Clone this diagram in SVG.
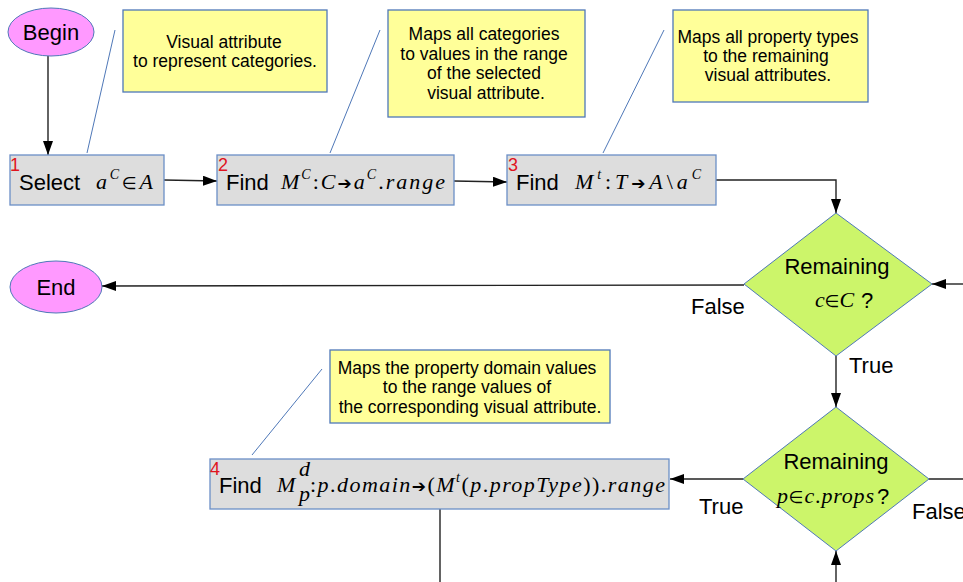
<svg xmlns="http://www.w3.org/2000/svg" width="963" height="582" viewBox="0 0 963 582">
<style>
.t{font-family:"Liberation Sans",Arial,sans-serif;fill:#000}
.lbl{font-size:22px}
.note{font-size:17.5px;text-anchor:middle}
.m{font-family:"Liberation Serif","Times New Roman",serif;font-style:italic;font-size:22px;fill:#000}
.op{font-family:"DejaVu Sans",sans-serif;font-style:normal;font-size:17px}
.num{font-family:"Liberation Sans",Arial,sans-serif;font-size:18px;fill:#e0141e}
.box{fill:#dddddd;stroke:#6b8fc7;stroke-width:1.3}
.nb{fill:#ffff99;stroke:#4f78b8;stroke-width:1.3}
.dia{fill:#ccf56a;stroke:#4f78b8;stroke-width:1}
.ell{fill:#ff99ff;stroke:#4f78b8;stroke-width:1}
.c{fill:none;stroke:#222;stroke-width:1.4}
.co{fill:none;stroke:#4f78b8;stroke-width:1}
</style>
<defs>
<marker id="ah" viewBox="0 0 14 10" refX="14" refY="5" markerWidth="14" markerHeight="10" markerUnits="userSpaceOnUse" orient="auto">
<path d="M0,0 L14,5 L0,10 Z" fill="#000"/>
</marker>
</defs>
<rect width="963" height="582" fill="#fff"/>
<g id="connectors">
<line class="c" x1="48" y1="56" x2="48" y2="155" marker-end="url(#ah)"/>
<line class="c" x1="164" y1="180" x2="217" y2="181" marker-end="url(#ah)"/>
<line class="c" x1="454" y1="181" x2="507" y2="182" marker-end="url(#ah)"/>
<polyline class="c" points="716,180 836,180 836,213" marker-end="url(#ah)"/>
<line class="c" x1="963" y1="284" x2="932" y2="284" marker-end="url(#ah)"/>
<line class="c" x1="744" y1="285" x2="102" y2="286" marker-end="url(#ah)"/>
<line class="c" x1="836" y1="356" x2="836" y2="407" marker-end="url(#ah)"/>
<line class="c" x1="836" y1="582" x2="836" y2="551" marker-end="url(#ah)"/>
<line class="c" x1="743" y1="479" x2="670" y2="479" marker-end="url(#ah)"/>
<line class="c" x1="929" y1="479" x2="963" y2="479"/>
<line class="c" x1="440" y1="509" x2="440" y2="582"/>
<line class="co" x1="115" y1="30" x2="87" y2="153"/>
<line class="co" x1="380" y1="30" x2="330" y2="153"/>
<line class="co" x1="664" y1="30" x2="603" y2="153"/>
<line class="co" x1="322" y1="369" x2="252" y2="455"/>
<text class="t lbl" x="691" y="314">False</text>
<text class="t lbl" x="849" y="373">True</text>
<text class="t lbl" x="699" y="514">True</text>
<text class="t lbl" x="912" y="519">False</text>
</g>
<g id="begin">
<ellipse class="ell" cx="51" cy="32" rx="43" ry="24"/>
<text class="t lbl" x="51" y="40" text-anchor="middle">Begin</text>
</g>
<g id="end">
<ellipse class="ell" cx="56" cy="287" rx="46" ry="26"/>
<text class="t lbl" x="56" y="295" text-anchor="middle">End</text>
</g>
<g id="note1">
<rect class="nb" x="123" y="10" width="204" height="82"/>
<text class="t note" x="224" y="48">Visual attribute</text>
<text class="t note" x="225" y="67">to represent categories.</text>
</g>
<g id="note2">
<rect class="nb" x="388" y="10" width="197" height="107"/>
<text class="t note" x="484" y="40">Maps all categories</text>
<text class="t note" x="484" y="60">to values in the range</text>
<text class="t note" x="484" y="79">of the selected</text>
<text class="t note" x="486" y="99">visual attribute.</text>
</g>
<g id="note3">
<rect class="nb" x="673" y="10" width="195" height="92"/>
<text class="t note" x="768" y="43">Maps all property types</text>
<text class="t note" x="766" y="62">to the remaining</text>
<text class="t note" x="768" y="81">visual attributes.</text>
</g>
<g id="note4">
<rect class="nb" x="330" y="350" width="280" height="73"/>
<text class="t note" x="467" y="374">Maps the property domain values</text>
<text class="t note" x="467" y="393">to the range values of</text>
<text class="t note" x="470" y="413">the corresponding visual attribute.</text>
</g>
<g id="step1">
<rect class="box" x="10" y="155" width="154" height="50"/>
<text class="num" x="10" y="171">1</text>
<text class="t lbl" x="19" y="190">Select</text>
<text class="m" x="96" y="189" textLength="57" lengthAdjust="spacing">a<tspan dy="-10" font-size="14">C</tspan><tspan dy="10" class="op">∈</tspan>A</text>
</g>
<g id="step2">
<rect class="box" x="217" y="155" width="237" height="50"/>
<text class="num" x="218" y="171">2</text>
<text class="t lbl" x="226" y="190">Find</text>
<text class="m" x="281" y="189" textLength="164" lengthAdjust="spacing">M<tspan dy="-10" font-size="14">C</tspan><tspan dy="10" font-style="normal">:</tspan>C<tspan class="op">➔</tspan>a<tspan dy="-10" font-size="14">C</tspan><tspan dy="10" font-style="normal">.</tspan>range</text>
</g>
<g id="step3">
<rect class="box" x="507" y="155" width="209" height="50"/>
<text class="num" x="508" y="171">3</text>
<text class="t lbl" x="516" y="190">Find</text>
<text class="m" x="575" y="189" textLength="126" lengthAdjust="spacing">M<tspan dy="-10" font-size="14">t</tspan><tspan dy="10" font-style="normal">:</tspan>T<tspan class="op">➔</tspan>A<tspan font-style="normal">\</tspan>a<tspan dy="-10" font-size="14">C</tspan></text>
</g>
<g id="decision1">
<polygon class="dia" points="836,213 932,284 836,356 744,284"/>
<text class="t lbl" x="837" y="274" text-anchor="middle">Remaining</text>
<text class="m" x="815" y="307">c<tspan class="op">∈</tspan>C</text>
<text class="t lbl" x="861" y="308">?</text>
</g>
<g id="decision2">
<polygon class="dia" points="836,407 929,479 836,551 743,479"/>
<text class="t lbl" x="836" y="469" text-anchor="middle">Remaining</text>
<text class="m" x="777" y="503" textLength="97" lengthAdjust="spacing">p<tspan class="op">∈</tspan>c<tspan font-style="normal">.</tspan>props</text>
<text class="t lbl" x="877" y="504">?</text>
</g>
<g id="step4">
<rect class="box" x="210" y="459" width="459" height="50"/>
<text class="num" x="210" y="475">4</text>
<text class="t lbl" x="219" y="493">Find</text>
<text class="m" x="277" y="492">M</text>
<text class="m" x="299" y="476" font-size="13">d</text>
<text class="m" x="299" y="501" font-size="13">p</text>
<text class="m" x="310" y="492" textLength="355" lengthAdjust="spacing"><tspan font-style="normal">:</tspan>p<tspan font-style="normal">.</tspan>domain<tspan class="op">➔</tspan><tspan font-style="normal">(</tspan>M<tspan dy="-10" font-size="14">t</tspan><tspan dy="10" font-style="normal">(</tspan>p<tspan font-style="normal">.</tspan>propType<tspan font-style="normal">)).</tspan>range</text>
</g>
</svg>
